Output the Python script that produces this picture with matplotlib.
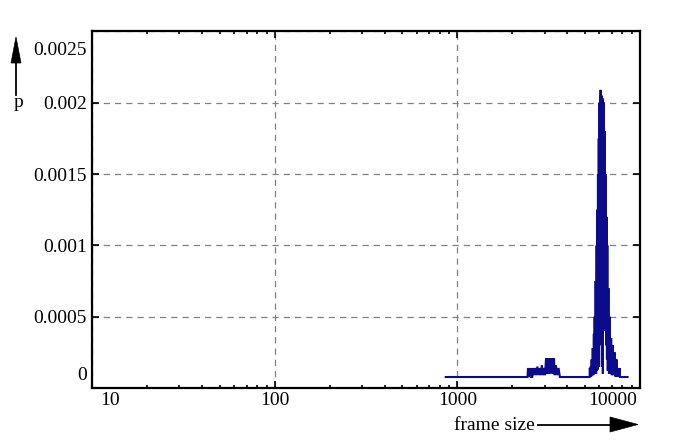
import matplotlib
matplotlib.use("Agg")
import matplotlib.pyplot as plt
import matplotlib.transforms as mtransforms
from matplotlib.patches import Polygon
from matplotlib.lines import Line2D
from matplotlib.ticker import NullFormatter, LogLocator

# ---------------- data ----------------
frame_size = [
    863, 2420,
    2435, 2470, 2510, 2520, 2570, 2580, 2620, 2660, 2700, 2740, 2780, 2820,
    2860, 2900, 2940, 2990, 3020, 3057, 3090, 3130, 3170, 3210, 3250, 3300,
    3340, 3380, 3410, 3460, 3520, 3580, 3640,
    5298, 5310, 5340, 5370, 5400, 5434, 5470, 5510, 5550, 5590, 5615, 5644,
    5680, 5715, 5750, 5788, 5815, 5845, 5865, 5885, 5910, 5945, 5965, 5987,
    6015, 6050, 6070, 6085, 6115, 6163, 6190, 6242, 6260, 6300, 6330, 6344,
    6375, 6400, 6440, 6482, 6520, 6563, 6590, 6622, 6660, 6717, 6760, 6817,
    6880, 6950, 7010, 7079, 7160, 7260, 7340, 7446, 7520, 7587, 7660, 7733,
    7760, 8550,
]
prob = [
    7.7e-5, 7.7e-5,
    1.4e-4, 8e-5, 1.4e-4, 7.7e-5, 7.7e-5, 1.4e-4, 9e-5, 1.4e-4, 9e-5, 1.5e-4, 9e-5, 1.4e-4,
    9e-5, 1.6e-4, 9e-5, 1.4e-4, 9e-5, 2.1e-4, 1.0e-4, 2.1e-4, 1.0e-4, 2.1e-4, 1.0e-4, 2.1e-4,
    1.0e-4, 2.1e-4, 9e-5, 1.6e-4, 9e-5, 1.4e-4, 7.7e-5,
    7.7e-5, 1.4e-4, 8e-5, 1.5e-4, 8e-5, 2.0e-4, 9e-5, 2.8e-4, 9e-5, 3.8e-4, 1.0e-4, 5.0e-4,
    1.0e-4, 7.5e-4, 1.0e-4, 1.0e-3, 1.2e-4, 1.25e-3, 1.3e-4, 1.5e-3, 1.5e-4, 1.75e-3, 1.5e-4, 2.0e-3,
    3.0e-4, 2.05e-3, 5.0e-4, 2.09e-3, 5.0e-4, 2.05e-3, 1.5e-4, 2.03e-3, 1.0e-4, 2.0e-3, 5.0e-4, 2.0e-3,
    4.5e-4, 1.8e-3, 4.0e-4, 1.5e-3, 3.0e-4, 1.2e-3, 2.0e-4, 1.0e-3, 1.2e-4, 7.0e-4, 1.0e-4, 5.0e-4,
    1.0e-4, 3.5e-4, 9e-5, 3.0e-4, 9e-5, 2.5e-4, 8e-5, 2.0e-4, 8e-5, 1.4e-4, 8e-5, 1.4e-4,
    7.7e-5, 7.7e-5,
]
x_ticks = [10, 100, 1000, 10000]
x_tick_labels = ["10", "100", "1000", "10000"]
y_ticks = [0, 0.0005, 0.001, 0.0015, 0.002, 0.0025]
y_tick_labels = ["0", "0.0005", "0.001", "0.0015", "0.002", "0.0025"]
x_label = "frame size"
y_label = "p"

# ---------------- style ----------------
plt.rcParams["font.family"] = ["Liberation Serif", "DejaVu Serif"]
plt.rcParams["font.size"] = 14

W, H = 689, 444
fig = plt.figure(figsize=(W / 100, H / 100), dpi=100)
L, R, T, B = 92.3, 640.0, 31.4, 388.0
ax = fig.add_axes([L / W, 1 - B / H, (R - L) / W, (B - T) / H])

ax.plot(frame_size, prob, color="#0b0b8b", lw=1.5, solid_joinstyle="miter")

ax.set_xscale("log")
ax.set_xlim(10, 10000)
ax.set_ylim(0, 0.0025)

ax.xaxis.set_minor_locator(LogLocator(base=10, subs=range(2, 10)))
ax.xaxis.set_minor_formatter(NullFormatter())

ax.grid(True, which="major", color="#808080", linestyle=(0, (5, 4)), lw=0.9)

for s in ax.spines.values():
    s.set_linewidth(1.6)
    s.set_color("black")

ax.tick_params(which="both", direction="in", top=True, right=True, width=1.2, color="black")
ax.tick_params(which="major", length=5)
ax.tick_params(which="minor", length=2.5)
ax.tick_params(axis="x", which="major", pad=3)
ax.tick_params(axis="y", which="major", pad=4)

ax.set_xticks(x_ticks)
ax.set_xticklabels(x_tick_labels)
ax.set_yticks(y_ticks)
ax.set_yticklabels(y_tick_labels)

# shift the edge tick labels inward (as in the reference)
xl = ax.get_xticklabels()
xl[0].set_ha("left")
xl[0].set_transform(xl[0].get_transform() + mtransforms.ScaledTranslation(7.7 / 100, 0, fig.dpi_scale_trans))
xl[-1].set_ha("right")
xl[-1].set_transform(xl[-1].get_transform() + mtransforms.ScaledTranslation(-3 / 100, 0, fig.dpi_scale_trans))
yl = ax.get_yticklabels()
yl[0].set_transform(yl[0].get_transform() + mtransforms.ScaledTranslation(0, 15 / 100, fig.dpi_scale_trans))
yl[-1].set_transform(yl[-1].get_transform() + mtransforms.ScaledTranslation(0, -17 / 100, fig.dpi_scale_trans))


def fx(px):
    return px / W


def fy(py):
    return 1 - py / H


# axis labels with arrows
fig.text(fx(18), fy(107), y_label, ha="center", va="baseline")
fig.text(fx(494.5), fy(430), x_label, ha="center", va="baseline")

fig.add_artist(Line2D([fx(16), fx(16)], [fy(95), fy(62)], transform=fig.transFigure, color="black", lw=1.3))
fig.add_artist(Polygon([[fx(11), fy(63)], [fx(21), fy(63)], [fx(16), fy(37)]], closed=True,
                       transform=fig.transFigure, facecolor="black", edgecolor="black", lw=0.5))
fig.add_artist(Line2D([fx(538), fx(612)], [fy(424.5), fy(424.5)], transform=fig.transFigure, color="black", lw=1.3))
fig.add_artist(Polygon([[fx(610), fy(417)], [fx(610), fy(432)], [fx(638), fy(424.5)]], closed=True,
                       transform=fig.transFigure, facecolor="black", edgecolor="black", lw=0.5))

fig.savefig("out.png", dpi=100)
